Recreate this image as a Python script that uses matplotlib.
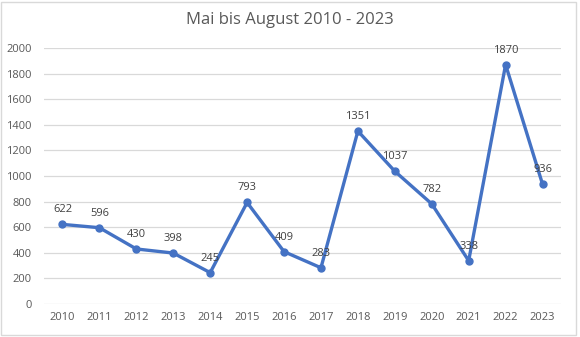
import matplotlib
matplotlib.use("Agg")
import matplotlib.pyplot as plt
import matplotlib.patches as mpatches

years = [2010, 2011, 2012, 2013, 2014, 2015, 2016, 2017, 2018, 2019, 2020, 2021, 2022, 2023]
values = [622, 596, 430, 398, 245, 793, 409, 283, 1351, 1037, 782, 338, 1870, 936]
y_ticks = [0, 200, 400, 600, 800, 1000, 1200, 1400, 1600, 1800, 2000]

LINE = '#4472C4'
TEXT = '#595959'
GRID = '#D9D9D9'

plt.rcParams['font.family'] = ['Open Sans', 'DejaVu Sans']

fig = plt.figure(figsize=(5.8, 3.37), dpi=100)
fig.patch.set_facecolor('white')
ax = fig.add_axes([44 / 580, 1 - 304 / 337, (561 - 44) / 580, (304 - 48) / 337])

# chart border
fig.patches.append(mpatches.Rectangle((1 / 580, 2 / 337), 575 / 580, 333 / 337,
                                      transform=fig.transFigure, fill=False,
                                      edgecolor='#D9D9D9', linewidth=1.0))

x = list(range(len(years)))
ax.plot(x, values, color=LINE, linewidth=2.4, marker='o', markersize=5,
        solid_capstyle='round', zorder=3)

for xi, v in zip(x, values):
    ax.annotate(str(v), (xi, v), xytext=(0, 10.5), textcoords='offset points',
                ha='center', va='center', fontsize=8, color='#404040', zorder=4)

ax.set_xlim(-0.5, len(years) - 0.5)
ax.set_ylim(0, 2000)
ax.set_xticks(x)
ax.set_xticklabels([str(y) for y in years])
ax.set_yticks(y_ticks)
ax.yaxis.grid(True, color=GRID, linewidth=0.9)
ax.set_axisbelow(True)
ax.tick_params(axis='both', length=0, labelsize=8, labelcolor=TEXT)
ax.tick_params(axis='y', pad=9)
ax.tick_params(axis='x', pad=6)
for s in ax.spines.values():
    s.set_visible(False)

fig.text(290 / 580, 1 - 20 / 337, "Mai bis August 2010 - 2023", ha='center', va='center',
         fontsize=12, color=TEXT)

fig.savefig("out.png", dpi=100)
